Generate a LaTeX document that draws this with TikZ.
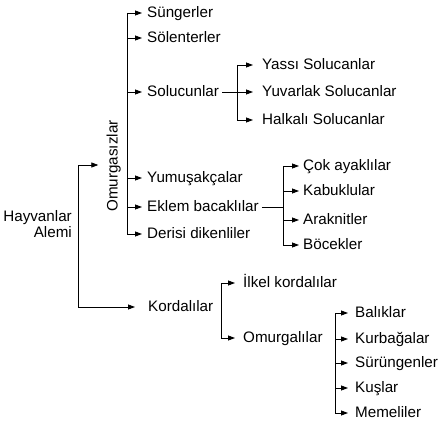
\documentclass[tikz,border=0pt]{standalone}
\usepackage{fontspec}
\setmainfont{Liberation Sans}
\usetikzlibrary{arrows.meta}
\begin{document}
\begin{tikzpicture}[x=1pt,y=-1pt,
  lbl/.style={anchor=west, inner sep=0pt, text height=9pt, text depth=0pt, font=\fontsize{15.2}{17}\selectfont},
  arr/.style={-{Triangle[length=7pt,width=5pt]}, line width=0.8pt},
  ln/.style={line width=0.8pt}]
\useasboundingbox (0,0) rectangle (443,425);
% root
\node[lbl, anchor=east] (hay1) at (72,217) {Hayvanlar};
\node[lbl, anchor=east] (hay2) at (72,233) {Alemi};
\node[lbl, anchor=center, rotate=90] (omz) at (113,166) {Omurgasızlar};
\node[lbl] (kor) at (148,307) {Kordalılar};
\coordinate (h1) at (78,165);
\coordinate (h2) at (78,307);
\draw[arr, shorten >=10pt] (h2) -- (h1) -- (h1 -| omz.north);
\draw[arr, shorten >=13pt] (h2) -- (kor.west);
% Omurgasizlar branch
\node[lbl] (sun) at (147,13) {Süngerler};
\node[lbl] (sol) at (147,38) {Sölenterler};
\node[lbl] (slc) at (147,92) {Solucunlar};
\node[lbl] (yum) at (147,178) {Yumuşakçalar};
\node[lbl] (ekl) at (147,207) {Eklem bacaklılar};
\node[lbl] (der) at (147,234) {Derisi dikenliler};
\coordinate (m1) at (127,13);
\coordinate (m2) at (127,38);
\coordinate (m3) at (127,92);
\coordinate (m4) at (127,178);
\coordinate (m5) at (127,207);
\coordinate (m6) at (127,234);
\draw[ln] (m1) -- (m6);
\foreach \c/\n in {m1/sun,m2/sol,m3/slc,m4/yum,m5/ekl,m6/der}
  \draw[arr, shorten >=5pt] (\c) -- (\n.west);
% Solucanlar
\node[lbl] (yas) at (262,65) {Yassı Solucanlar};
\node[lbl] (yuv) at (262,92) {Yuvarlak Solucanlar};
\node[lbl] (hal) at (262,120) {Halkalı Solucanlar};
\coordinate (s1) at (237,65);
\coordinate (s2) at (237,92);
\coordinate (s3) at (237,120);
\draw[ln] (s1) -- (s3);
\draw[ln, shorten <=3pt] (slc.east) -- (s2);
\foreach \c/\n in {s1/yas,s2/yuv,s3/hal}
  \draw[arr, shorten >=9pt] (\c) -- (\n.west);
% Eklem bacaklilar
\node[lbl] (cok) at (303,166) {Çok ayaklılar};
\node[lbl] (kab) at (303,191) {Kabuklular};
\node[lbl] (ara) at (303,220) {Araknitler};
\node[lbl] (boc) at (303,245) {Böcekler};
\coordinate (e0) at (283,207);
\coordinate (e1) at (283,166);
\coordinate (e2) at (283,191);
\coordinate (e3) at (283,220);
\coordinate (e4) at (283,245);
\draw[ln] (e1) -- (e4);
\draw[ln, shorten <=3pt] (ekl.east) -- (e0);
\foreach \c/\n in {e1/cok,e2/kab,e3/ara,e4/boc}
  \draw[arr, shorten >=4pt] (\c) -- (\n.west);
% Kordalilar
\node[lbl] (ilk) at (243,283) {İlkel kordalılar};
\node[lbl] (omg) at (243,338) {Omurgalılar};
\coordinate (k1) at (221,283);
\coordinate (k2) at (221,338);
\draw[ln] (k1) -- (k2);
\foreach \c/\n in {k1/ilk,k2/omg}
  \draw[arr, shorten >=8pt] (\c) -- (\n.west);
% Omurgalilar
\node[lbl] (bal) at (355,313) {Balıklar};
\node[lbl] (kur) at (355,339) {Kurbağalar};
\node[lbl] (sur) at (355,363) {Sürüngenler};
\node[lbl] (kus) at (355,388) {Kuşlar};
\node[lbl] (mem) at (355,413) {Memeliler};
\coordinate (o1) at (335,313);
\coordinate (o2) at (335,339);
\coordinate (o3) at (335,363);
\coordinate (o4) at (335,388);
\coordinate (o5) at (335,413);
\draw[ln] (o1) -- (o5);
\foreach \c/\n in {o1/bal,o2/kur,o3/sur,o4/kus,o5/mem}
  \draw[arr, shorten >=7pt] (\c) -- (\n.west);
\end{tikzpicture}
\end{document}
